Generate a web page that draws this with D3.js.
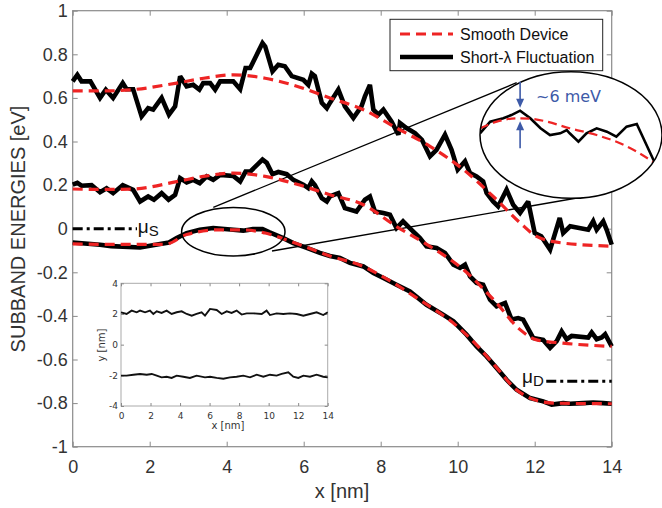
<!DOCTYPE html>
<html>
<head>
<meta charset="UTF-8">
<title>Subband energies</title>
<script src="https://d3js.org/d3.v7.min.js"></script>
<style>
  body { margin: 0; background: #fff; }
  svg { display: block; font-family: "Liberation Sans", Arial, sans-serif; }
  .axis text { fill: #333; }
  .axis line { stroke: #8a8a8a; }
  .inset text { font-family: "DejaVu Sans", Verdana, sans-serif; }
</style>
</head>
<body>
<svg width="662" height="508"></svg>
<script>
// ---- data ----
const xTicks = [0, 2, 4, 6, 8, 10, 12, 14];
const yTicks = [1, 0.8, 0.6, 0.4, 0.2, 0, -0.2, -0.4, -0.6, -0.8, -1];
const yTickLabels = ["1", "0.8", "0.6", "0.4", "0.2", "0", "-0.2", "-0.4", "-0.6", "-0.8", "-1"];

const topX = [0,0.12,0.23,0.46,0.71,0.86,1.05,1.30,1.40,1.57,1.79,1.96,2.09,2.31,2.50,2.66,2.79,2.96,3.13,3.29,3.39,3.57,3.70,3.83,4.17,4.35,4.49,4.61,4.93,5.0,5.19,5.34,5.51,5.69,5.99,6.12,6.21,6.29,6.47,6.6,6.68,6.9,7.07,7.29,7.5,7.59,7.72,7.81,7.94,8.07,8.28,8.46,8.5,8.67,8.89,9.07,9.28,9.45,9.67,9.84,10.0,10.19,10.32,10.49,10.66,10.75,10.92,11.05,11.27,11.44,11.62,11.83,12.0,12.17,12.4,12.65,12.74,12.92,13.39,13.52,13.61,13.78,13.87,14];
const topFluct = [0.676,0.706,0.676,0.676,0.60,0.638,0.60,0.668,0.64,0.64,0.515,0.553,0.546,0.60,0.523,0.561,0.699,0.653,0.66,0.638,0.668,0.668,0.638,0.676,0.676,0.64,0.737,0.737,0.852,0.836,0.722,0.752,0.745,0.70,0.683,0.66,0.711,0.70,0.577,0.553,0.577,0.638,0.561,0.508,0.561,0.607,0.66,0.546,0.523,0.546,0.492,0.431,0.485,0.462,0.439,0.408,0.332,0.362,0.431,0.362,0.271,0.309,0.255,0.24,0.217,0.164,0.125,0.102,0.179,0.11,0.072,0.125,-0.02,-0.035,-0.096,0.049,-0.02,0.011,-0.005,0.034,-0.005,0.034,-0.005,-0.073];

const topSmoothX = [0,0.8,1.57,2.7,3.4,4.17,5.0,5.8,6.68,7.55,8.41,9.28,10.15,11.01,11.62,12.05,12.74,14];
const topSmooth = [0.632,0.632,0.638,0.668,0.69,0.706,0.69,0.655,0.60,0.546,0.462,0.378,0.271,0.133,0.027,-0.035,-0.066,-0.08];

const midX = [0,0.12,0.23,0.49,0.71,0.88,1.05,1.30,1.57,1.75,1.96,2.11,2.31,2.49,2.66,2.79,2.96,3.13,3.3,3.48,3.65,3.83,4.17,4.35,4.49,4.61,4.93,5.04,5.19,5.34,5.56,5.73,5.99,6.12,6.21,6.29,6.47,6.6,6.68,6.9,7.07,7.37,7.59,7.72,7.85,8.07,8.24,8.41,8.58,8.8,9.02,9.19,9.45,9.67,9.89,10.06,10.19,10.32,10.49,10.66,10.84,11.01,11.23,11.40,11.57,11.7,11.96,12.22,12.4,12.57,12.7,12.83,12.96,13.39,13.48,13.61,13.74,13.83,14];
const midFluct = [0.202,0.21,0.197,0.2,0.167,0.185,0.163,0.2,0.178,0.125,0.148,0.133,0.163,0.133,0.155,0.232,0.212,0.224,0.209,0.24,0.224,0.247,0.242,0.217,0.262,0.262,0.317,0.302,0.25,0.26,0.25,0.224,0.202,0.186,0.217,0.2,0.14,0.125,0.148,0.163,0.094,0.079,0.133,0.148,0.079,0.072,0.064,0.003,0.034,-0.005,-0.043,-0.081,-0.088,-0.111,-0.165,-0.18,-0.165,-0.219,-0.249,-0.257,-0.326,-0.356,-0.341,-0.417,-0.41,-0.417,-0.501,-0.51,-0.547,-0.516,-0.471,-0.507,-0.492,-0.499,-0.476,-0.507,-0.499,-0.484,-0.54];

const midSmoothX = [0,0.8,1.57,2.7,3.4,4.17,5.0,5.8,6.68,7.55,8.41,9.28,10.15,11.01,11.62,12.05,12.74,14];
const midSmooth = [0.182,0.18,0.182,0.216,0.24,0.255,0.24,0.205,0.156,0.11,0.01,-0.081,-0.188,-0.341,-0.463,-0.51,-0.525,-0.54];

const botX = [0,0.71,1.0,1.75,2.27,2.5,2.7,2.96,3.3,3.65,4.17,4.43,4.68,4.93,5.10,5.47,5.73,6.08,6.42,6.68,6.94,7.2,7.55,7.81,8.07,8.41,8.76,9.19,9.62,9.89,10.23,10.49,10.75,11.01,11.27,11.53,11.88,12.22,12.44,12.74,12.92,13.26,13.52,13.78,14];
const botFluct = [-0.063,-0.074,-0.08,-0.086,-0.07,-0.063,-0.043,-0.02,-0.005,0.003,-0.005,-0.009,-0.002,-0.002,-0.016,-0.043,-0.066,-0.088,-0.111,-0.125,-0.134,-0.157,-0.173,-0.203,-0.226,-0.257,-0.288,-0.349,-0.394,-0.425,-0.486,-0.54,-0.586,-0.639,-0.693,-0.739,-0.777,-0.792,-0.807,-0.8,-0.803,-0.8,-0.797,-0.8,-0.803];

const botSmoothX = [0,1.2,2.4,2.96,3.83,4.5,5.0,5.9,6.68,7.5,8.2,9.0,10.0,10.5,11.0,11.5,12.0,12.5,13.2,14];
const botSmooth = [-0.07,-0.072,-0.072,-0.027,-0.005,-0.006,-0.02,-0.074,-0.125,-0.17,-0.235,-0.325,-0.45,-0.535,-0.635,-0.735,-0.785,-0.8,-0.802,-0.803];

const muS = 0, muD = -0.70;

// zoomed detail (x in nm, energy in meV relative to the smooth peak)
const zoomFluctX = [2.9,3.04,3.22,3.33,3.45,3.59,3.73,3.86,4.0,4.09,4.13,4.25,4.36,4.5,4.64,4.77,4.91,5.05,5.3];
const zoomFluct = [-12,-2.7,0,2.6,6.1,0,-8,-13.4,-12,-9.4,-12,-18.7,-12,-8,-10.7,-14.7,-6.7,-4.6,-36];
const zoomSmoothX = [2.9,3.13,3.4,3.59,3.82,4.13,4.5,4.82,5.05,5.3];
const zoomSmooth = [-8,-2.7,0,-0.3,-2.7,-8,-13.4,-20,-26.7,-36];

// inset: device edges
const insetTicksX = [0, 2, 4, 6, 8, 10, 12, 14];
const insetTicksY = [4, 2, 0, -2, -4];
const edgeTopX = [0,0.38,0.72,1.06,1.29,1.63,1.96,2.19,2.42,2.75,3.09,3.43,3.77,4.11,4.45,4.79,5.12,5.46,5.69,6.03,6.48,6.82,7.16,7.49,7.83,8.17,8.51,8.96,9.53,9.86,10.09,10.54,10.99,11.44,11.9,12.35,12.8,13.25,13.7,14];
const edgeTop = [2.11,2.0,2.22,2.11,2.22,2.11,2.22,2.0,2.17,2.07,2.22,2.0,2.11,2.17,2.0,1.89,2.0,2.11,1.89,2.33,2.26,2.0,2.17,2.07,2.22,1.96,2.04,2.04,2.0,2.22,1.93,2.04,2.0,2.04,2.0,1.89,2.0,2.11,1.93,2.11];
const edgeBotX = [0,0.38,0.84,1.29,1.74,2.08,2.42,2.75,3.09,3.43,3.77,4.22,4.67,5.12,5.69,6.03,6.48,6.93,7.38,7.83,8.28,8.74,9.19,9.64,10.09,10.54,10.88,11.33,11.67,12.01,12.35,12.8,13.25,13.7,14];
const edgeBot = [-2.02,-2.02,-1.96,-1.91,-1.96,-1.91,-2.02,-2.13,-2.09,-2.17,-2.02,-2.09,-2.17,-2.02,-2.13,-2.09,-2.17,-2.22,-2.13,-2.09,-2.02,-2.13,-1.96,-2.09,-1.96,-2.02,-1.91,-1.8,-2.09,-2.17,-2.02,-2.09,-1.96,-2.09,-2.13];

// ---- layout ----
const RED = "#ee2424", BLUE = "#3d5aa8";
const svg = d3.select("svg");
const x = d3.scaleLinear().domain([0, 14]).range([72.7, 611.7]);
const y = d3.scaleLinear().domain([-1, 1]).range([446.7, 10.7]);
const zip = (xs, ys) => xs.map((v, i) => [v, ys[i]]);

// axes box + ticks on all four sides (inward)
svg.append("rect")
  .attr("x", x(0)).attr("y", y(1))
  .attr("width", x(14) - x(0)).attr("height", y(-1) - y(1))
  .attr("fill", "#fff").attr("stroke", "#8a8a8a").attr("stroke-width", 1.2);

const ax = [
  [d3.axisBottom(x).tickValues(xTicks).tickFormat(d3.format("d")), `translate(0,${y(-1)})`],
  [d3.axisTop(x).tickValues(xTicks).tickFormat(""), `translate(0,${y(1)})`],
  [d3.axisLeft(y).tickValues(yTicks).tickFormat((d, i) => yTickLabels[i]), `translate(${x(0)},0)`],
  [d3.axisRight(y).tickValues(yTicks).tickFormat(""), `translate(${x(14)},0)`]
];
ax.forEach(([a, t], k) => {
  const g = svg.append("g").attr("class", "axis").attr("transform", t)
    .call(a.tickSizeInner(-5).tickSizeOuter(0).tickPadding(k === 0 ? 14 : 5));
  g.select(".domain").remove();
  g.selectAll("text").attr("font-size", 18).attr("font-family", "Liberation Sans, Arial, sans-serif");
});

svg.append("text")
  .attr("transform", "translate(25,229) rotate(-90)")
  .attr("text-anchor", "middle").attr("font-size", 20).attr("fill", "#333")
  .text("SUBBAND ENERGIES [eV]");
svg.append("text")
  .attr("x", 342).attr("y", 498)
  .attr("text-anchor", "middle").attr("font-size", 20).attr("fill", "#333")
  .text("x [nm]");

// magnifier connector lines
svg.append("line").attr("x1", 213.3).attr("y1", 207.3).attr("x2", 516.7).attr("y2", 82.7)
  .attr("stroke", "#000").attr("stroke-width", 1.3);
svg.append("line").attr("x1", 272).attr("y1", 251).attr("x2", 600).attr("y2", 194)
  .attr("stroke", "#000").attr("stroke-width", 1.3);

// subband curves
const line = d3.line().x(d => x(d[0])).y(d => y(d[1]));
const smooth = d3.line().x(d => x(d[0])).y(d => y(d[1])).curve(d3.curveMonotoneX);
[[topX, topFluct], [midX, midFluct], [botX, botFluct]].forEach(([xs, ys]) => {
  svg.append("path").attr("d", line(zip(xs, ys)))
    .attr("fill", "none").attr("stroke", "#000").attr("stroke-width", 4.6)
    .attr("stroke-linejoin", "miter").attr("stroke-miterlimit", 2.5);
});
[[topSmoothX, topSmooth], [midSmoothX, midSmooth], [botSmoothX, botSmooth]].forEach(([xs, ys]) => {
  svg.append("path").attr("d", smooth(zip(xs, ys)))
    .attr("fill", "none").attr("stroke", RED).attr("stroke-width", 3.2)
    .attr("stroke-dasharray", "10,6");
});

// chemical potentials
const dashDot = "10,4,3,4";
svg.append("line").attr("x1", x(0)).attr("x2", x(1.67)).attr("y1", y(muS)).attr("y2", y(muS))
  .attr("stroke", "#000").attr("stroke-width", 3).attr("stroke-dasharray", dashDot);
svg.append("line").attr("x1", x(12.3)).attr("x2", x(14)).attr("y1", y(muD)).attr("y2", y(muD))
  .attr("stroke", "#000").attr("stroke-width", 3).attr("stroke-dasharray", dashDot);
const muLab = (px, py, sub) => {
  const t = svg.append("text").attr("x", px).attr("y", py).attr("font-size", 19).attr("fill", "#111");
  t.append("tspan").text("μ");
  t.append("tspan").attr("font-size", 15).attr("dy", 3).text(sub);
};
muLab(x(1.69), y(muS) + 4, "S");
muLab(522, y(muD) + 2, "D");

// small ellipse round the peak
svg.append("ellipse").attr("cx", 233.3).attr("cy", 231.7).attr("rx", 51.7).attr("ry", 24.3)
  .attr("fill", "none").attr("stroke", "#000").attr("stroke-width", 1.5);

// ---- inset: device geometry ----
const ix = d3.scaleLinear().domain([0, 14]).range([121, 327.7]);
const iy = d3.scaleLinear().domain([-4, 4]).range([406, 283.3]);
const inset = svg.append("g").attr("class", "inset");
inset.append("rect").attr("x", ix(0)).attr("y", iy(4))
  .attr("width", ix(14) - ix(0)).attr("height", iy(-4) - iy(4))
  .attr("fill", "#fff").attr("stroke", "#aaa").attr("stroke-width", 1);
[
  [d3.axisBottom(ix).tickValues(insetTicksX), `translate(0,${iy(-4)})`, 7],
  [d3.axisTop(ix).tickValues(insetTicksX).tickFormat(""), `translate(0,${iy(4)})`, 3],
  [d3.axisLeft(iy).tickValues(insetTicksY).tickFormat(d => d < 0 ? "-" + Math.abs(d) : d), `translate(${ix(0)},0)`, 3],
  [d3.axisRight(iy).tickValues(insetTicksY).tickFormat(""), `translate(${ix(14)},0)`, 3]
].forEach(([a, t, pad]) => {
  const g = inset.append("g").attr("class", "axis").attr("transform", t)
    .call(a.tickSizeInner(-3).tickSizeOuter(0).tickPadding(pad));
  g.select(".domain").remove();
  g.selectAll("line").attr("stroke", "#aaa");
  g.selectAll("text").attr("font-size", 9).attr("font-family", "DejaVu Sans, Verdana, sans-serif").attr("fill", "#333");
});
const iline = d3.line().x(d => ix(d[0])).y(d => iy(d[1]));
[[edgeTopX, edgeTop], [edgeBotX, edgeBot]].forEach(([xs, ys]) => {
  inset.append("path").attr("d", iline(zip(xs, ys)))
    .attr("fill", "none").attr("stroke", "#111").attr("stroke-width", 1.9);
});
inset.append("text").attr("x", 228).attr("y", 429).attr("text-anchor", "middle")
  .attr("font-size", 10).attr("fill", "#333").text("x [nm]");
inset.append("text").attr("transform", "translate(105,345) rotate(-90)").attr("text-anchor", "middle")
  .attr("font-size", 10).attr("fill", "#333").text("y [nm]");

// ---- magnified view ----
const zx = d3.scaleLinear().domain([2.9, 5.3]).range([480, 655]);
const zy = d3.scaleLinear().domain([-36, 6]).range([163.3, 110.8]);
const big = { cx: 571, cy: 135, rx: 91, ry: 63.3 };
svg.append("clipPath").attr("id", "zclip").append("ellipse")
  .attr("cx", big.cx).attr("cy", big.cy).attr("rx", big.rx).attr("ry", big.ry);
svg.append("ellipse").attr("cx", big.cx).attr("cy", big.cy).attr("rx", big.rx).attr("ry", big.ry)
  .attr("fill", "#fff");
const zg = svg.append("g").attr("clip-path", "url(#zclip)");
const zline = d3.line().x(d => zx(d[0])).y(d => zy(d[1]));
zg.append("path").attr("d", zline(zip(zoomFluctX, zoomFluct)))
  .attr("fill", "none").attr("stroke", "#000").attr("stroke-width", 2.6);
zg.append("path").attr("d", zline.curve(d3.curveMonotoneX)(zip(zoomSmoothX, zoomSmooth)))
  .attr("fill", "none").attr("stroke", RED).attr("stroke-width", 2.2).attr("stroke-dasharray", "9,5");
svg.append("ellipse").attr("cx", big.cx).attr("cy", big.cy).attr("rx", big.rx).attr("ry", big.ry)
  .attr("fill", "none").attr("stroke", "#000").attr("stroke-width", 1.5);

// ~6 meV arrows
const arrow = (x0, yFrom, yTip) => {
  const dir = yTip > yFrom ? 1 : -1;
  svg.append("line").attr("x1", x0).attr("x2", x0).attr("y1", yFrom).attr("y2", yTip - dir * 4)
    .attr("stroke", BLUE).attr("stroke-width", 1.6);
  svg.append("path")
    .attr("d", `M${x0},${yTip} L${x0 - 4},${yTip - dir * 9} L${x0 + 4},${yTip - dir * 9} Z`)
    .attr("fill", BLUE);
};
arrow(zx(3.45), 81.7, zy(6.1) - 3);
arrow(zx(3.45), 148.3, zy(0) + 3);
svg.append("text").attr("x", 536).attr("y", 101.5)
  .attr("font-family", "DejaVu Sans, Verdana, sans-serif").attr("font-size", 16).attr("fill", BLUE)
  .text("~6 meV");

// ---- legend ----
const lg = svg.append("g");
lg.append("rect").attr("x", 390).attr("y", 19.3).attr("width", 212.7).attr("height", 51.4)
  .attr("fill", "#fff").attr("stroke", "#222").attr("stroke-width", 1);
lg.append("line").attr("x1", 400).attr("x2", 453).attr("y1", 34).attr("y2", 34)
  .attr("stroke", RED).attr("stroke-width", 3.2).attr("stroke-dasharray", "10,6");
lg.append("line").attr("x1", 400).attr("x2", 453).attr("y1", 57).attr("y2", 57)
  .attr("stroke", "#000").attr("stroke-width", 4.5);
lg.append("text").attr("x", 460).attr("y", 34).attr("dy", "0.35em").attr("font-size", 16)
  .attr("fill", "#111").text("Smooth Device");
lg.append("text").attr("x", 460).attr("y", 57).attr("dy", "0.35em").attr("font-size", 16)
  .attr("fill", "#111").text("Short-λ Fluctuation");
</script>
</body>
</html>
